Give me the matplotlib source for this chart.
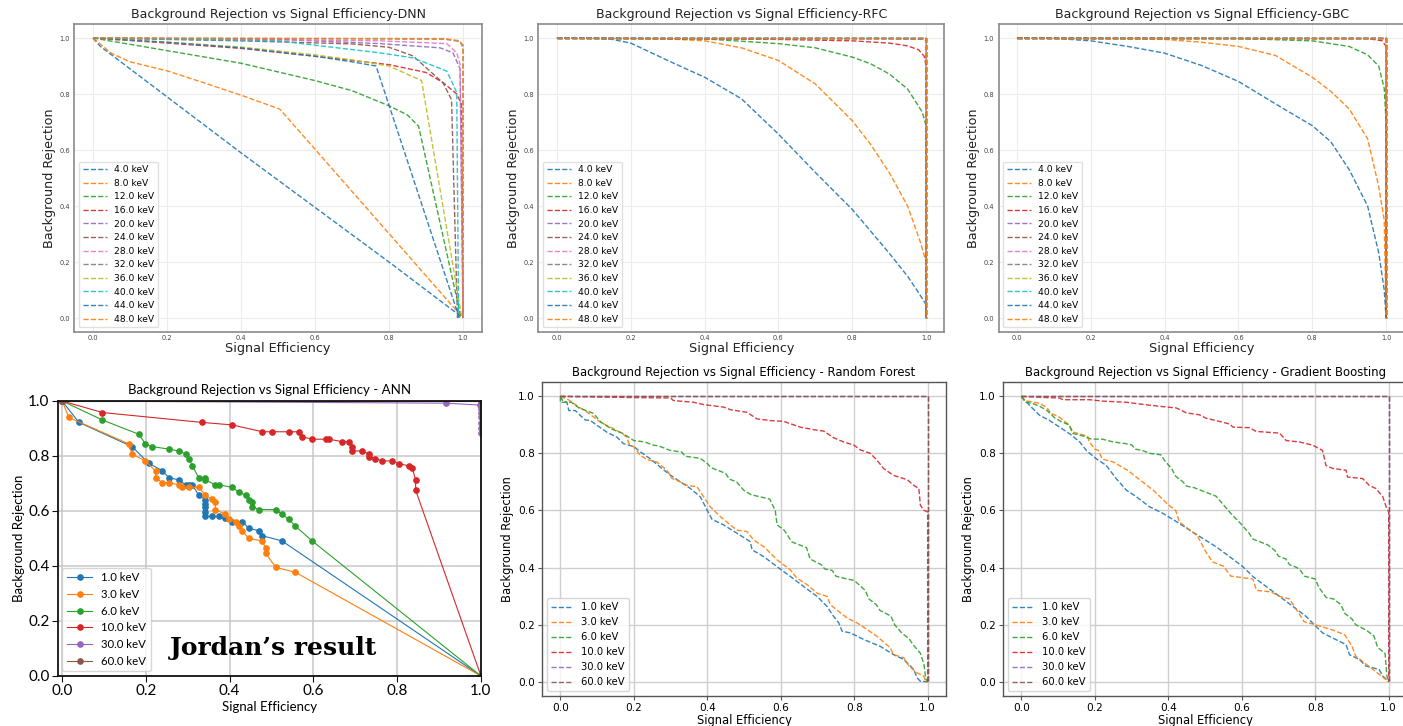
import matplotlib
matplotlib.use("Agg")
import matplotlib.pyplot as plt

# ---------------------------------------------------------------------------
# Legend energies
# ---------------------------------------------------------------------------
top_energies = [4.0, 8.0, 12.0, 16.0, 20.0, 24.0, 28.0, 32.0, 36.0, 40.0, 44.0, 48.0]
bottom_energies = [1.0, 3.0, 6.0, 10.0, 30.0, 60.0]

# Ideal classifier: full rejection up to full efficiency
ideal_eff = [0.0, 1.0, 1.0]
ideal_rej = [1.0, 1.0, 0.0]

# ---------------------------------------------------------------------------
# DNN curves
# ---------------------------------------------------------------------------
dnn_eff_4 = [0.0, 0.02, 0.2, 0.4, 0.6, 0.8, 1.0]
dnn_rej_4 = [1.0, 0.97, 0.79, 0.59, 0.395, 0.2, 0.0]
dnn_eff_8 = [0.0, 0.05, 0.1, 0.2, 0.3, 0.4, 0.505, 1.0]
dnn_rej_8 = [1.0, 0.945, 0.915, 0.883, 0.84, 0.796, 0.746, 0.0]
dnn_eff_12 = [0.0, 0.2, 0.4, 0.6, 0.7, 0.8, 0.85, 0.88, 0.995]
dnn_rej_12 = [1.0, 0.955, 0.91, 0.848, 0.812, 0.758, 0.725, 0.685, 0.0]
dnn_eff_16 = [0.0, 0.2, 0.4, 0.6, 0.8, 0.9, 0.947, 0.983, 0.996, 1.0]
dnn_rej_16 = [1.0, 0.982, 0.963, 0.935, 0.905, 0.877, 0.84, 0.8, 0.764, 0.0]
dnn_eff_20 = [0.0, 0.5, 0.776, 0.938, 0.973, 0.992, 1.0]
dnn_rej_20 = [1.0, 0.995, 0.98, 0.965, 0.947, 0.89, 0.0]
dnn_eff_24 = [0.0, 0.4, 0.7, 0.8, 0.865, 0.946, 0.969, 0.985]
dnn_rej_24 = [1.0, 0.99, 0.979, 0.967, 0.936, 0.84, 0.78, 0.0]
dnn_eff_28 = [0.0, 0.776, 0.956, 0.983, 0.992, 1.0]
dnn_rej_28 = [1.0, 0.99, 0.98, 0.947, 0.907, 0.0]
dnn_eff_32 = [0.0, 0.95, 0.99, 1.0, 1.0]
dnn_rej_32 = [1.0, 0.996, 0.988, 0.975, 0.0]
dnn_eff_36 = [0.0, 0.2, 0.4, 0.6, 0.7, 0.8, 0.888, 0.997]
dnn_rej_36 = [1.0, 0.985, 0.968, 0.94, 0.922, 0.9, 0.848, 0.0]
dnn_eff_40 = [0.0, 0.5, 0.776, 0.865, 0.956, 0.969, 0.983, 0.988]
dnn_rej_40 = [1.0, 0.99, 0.947, 0.929, 0.882, 0.846, 0.805, 0.0]
dnn_eff_44 = [0.0, 0.2, 0.4, 0.6, 0.7, 0.765, 0.99]
dnn_rej_44 = [1.0, 0.985, 0.965, 0.935, 0.915, 0.9, 0.0]
dnn_eff_48 = [0.0, 0.95, 0.992, 1.0, 1.0]
dnn_rej_48 = [1.0, 0.998, 0.99, 0.96, 0.0]

# ---------------------------------------------------------------------------
# RFC curves
# ---------------------------------------------------------------------------
rfc_eff_4 = [0.0, 0.1, 0.15, 0.2, 0.3, 0.4, 0.5, 0.6, 0.7, 0.8, 0.9, 0.95, 0.98, 1.0, 1.0]
rfc_rej_4 = [1.0, 0.998, 0.995, 0.982, 0.92, 0.86, 0.783, 0.657, 0.52, 0.388, 0.232, 0.149, 0.09, 0.048, 0.0]
rfc_eff_8 = [0.0, 0.3, 0.4, 0.5, 0.6, 0.7, 0.8, 0.85, 0.9, 0.95, 0.985, 1.0, 1.0]
rfc_rej_8 = [1.0, 0.997, 0.99, 0.965, 0.92, 0.836, 0.705, 0.62, 0.52, 0.4, 0.27, 0.2, 0.0]
rfc_eff_12 = [0.0, 0.4, 0.6, 0.7, 0.8, 0.85, 0.9, 0.95, 0.99, 1.0, 1.0]
rfc_rej_12 = [1.0, 0.997, 0.98, 0.965, 0.932, 0.908, 0.872, 0.818, 0.735, 0.687, 0.0]
rfc_eff_16 = [0.0, 0.6, 0.8, 0.9, 0.95, 0.98, 0.995, 1.0, 1.0]
rfc_rej_16 = [1.0, 0.995, 0.99, 0.982, 0.972, 0.958, 0.935, 0.9, 0.0]
rfc_eff_20 = [0.0, 0.9, 0.99, 1.0, 1.0]
rfc_rej_20 = [1.0, 0.998, 0.995, 0.99, 0.0]

# ---------------------------------------------------------------------------
# GBC curves
# ---------------------------------------------------------------------------
gbc_eff_4 = [0.0, 0.1, 0.2, 0.3, 0.4, 0.5, 0.6, 0.7, 0.8, 0.85, 0.9, 0.95, 0.98, 0.995, 1.0]
gbc_rej_4 = [1.0, 0.999, 0.99, 0.97, 0.946, 0.902, 0.845, 0.765, 0.687, 0.63, 0.53, 0.4, 0.233, 0.1, 0.0]
gbc_eff_8 = [0.0, 0.4, 0.5, 0.6, 0.7, 0.8, 0.85, 0.9, 0.95, 0.98, 0.995, 1.0]
gbc_rej_8 = [1.0, 0.995, 0.985, 0.97, 0.938, 0.86, 0.81, 0.747, 0.64, 0.47, 0.35, 0.0]
gbc_eff_12 = [0.0, 0.6, 0.8, 0.9, 0.95, 0.98, 0.995, 1.0, 1.0]
gbc_rej_12 = [1.0, 0.998, 0.99, 0.97, 0.94, 0.9, 0.82, 0.7, 0.0]
gbc_eff_16 = [0.0, 0.95, 0.99, 1.0, 1.0]
gbc_rej_16 = [1.0, 0.998, 0.99, 0.97, 0.0]

# ---------------------------------------------------------------------------
# ANN curves (points with markers)
# ---------------------------------------------------------------------------
ann_eff_1 = [0.0, 0.04, 0.167, 0.207, 0.239, 0.255, 0.279, 0.295, 0.303, 0.311, 0.326,
             0.342, 0.342, 0.342, 0.342, 0.342, 0.358, 0.374, 0.39, 0.406, 0.43, 0.446,
             0.47, 0.478, 0.525, 1.0]
ann_rej_1 = [1.0, 0.922, 0.834, 0.773, 0.747, 0.721, 0.713, 0.695, 0.695, 0.695, 0.658,
             0.64, 0.627, 0.615, 0.598, 0.58, 0.58, 0.58, 0.573, 0.561, 0.561, 0.537,
             0.528, 0.51, 0.491, 0.0]
ann_eff_3 = [0.0, 0.016, 0.159, 0.167, 0.199, 0.223, 0.223, 0.239, 0.255, 0.279, 0.287,
             0.303, 0.326, 0.342, 0.358, 0.366, 0.366, 0.39, 0.398, 0.414, 0.422, 0.43,
             0.446, 0.478, 0.486, 0.486, 0.51, 0.557, 1.0]
ann_rej_3 = [1.0, 0.94, 0.844, 0.807, 0.782, 0.745, 0.721, 0.703, 0.703, 0.695, 0.686,
             0.686, 0.686, 0.658, 0.642, 0.632, 0.605, 0.588, 0.57, 0.561, 0.545, 0.527,
             0.5, 0.491, 0.464, 0.446, 0.395, 0.377, 0.0]
ann_eff_6 = [0.0, 0.096, 0.183, 0.199, 0.215, 0.255, 0.279, 0.295, 0.303, 0.311, 0.326,
             0.342, 0.342, 0.366, 0.374, 0.406, 0.422, 0.438, 0.446, 0.454, 0.454, 0.47,
             0.51, 0.525, 0.541, 0.557, 0.597, 1.0]
ann_rej_6 = [1.0, 0.931, 0.879, 0.844, 0.834, 0.825, 0.818, 0.807, 0.79, 0.764, 0.721,
             0.721, 0.713, 0.695, 0.695, 0.686, 0.668, 0.658, 0.64, 0.632, 0.616, 0.605,
             0.605, 0.588, 0.57, 0.545, 0.491, 0.0]
ann_eff_10 = [0.0, 0.096, 0.334, 0.406, 0.478, 0.502, 0.541, 0.565, 0.573, 0.597, 0.629,
              0.637, 0.669, 0.685, 0.693, 0.693, 0.717, 0.732, 0.732, 0.748, 0.764, 0.788,
              0.804, 0.828, 0.836, 0.844, 0.844, 1.0]
ann_rej_10 = [1.0, 0.958, 0.922, 0.913, 0.888, 0.888, 0.888, 0.888, 0.87, 0.861, 0.861,
              0.861, 0.852, 0.852, 0.834, 0.818, 0.818, 0.807, 0.798, 0.79, 0.782, 0.782,
              0.772, 0.764, 0.756, 0.713, 0.676, 0.0]
ann_eff_30 = [0.0, 0.916, 0.998, 1.0, 1.0, 1.0, 1.0, 1.0, 1.0]
ann_rej_30 = [1.0, 0.992, 0.985, 0.972, 0.955, 0.94, 0.92, 0.9, 0.885]
ann_eff_60 = [0.0, 1.0]
ann_rej_60 = [1.0, 1.0]

# ---------------------------------------------------------------------------
# Random Forest curves
# ---------------------------------------------------------------------------
rf_eff_1 = [0.0, 0.005, 0.018, 0.023, 0.041, 0.054, 0.068, 0.082, 0.1, 0.127, 0.154, 0.172,
            0.2, 0.218, 0.245, 0.272, 0.3, 0.327, 0.354, 0.381, 0.395, 0.404, 0.413, 0.445,
            0.481, 0.517, 0.522, 0.554, 0.59, 0.626, 0.662, 0.699, 0.726, 0.744, 0.758,
            0.767, 0.79, 0.826, 0.871, 0.907, 0.935, 0.962, 0.971, 0.98, 1.0]
rf_rej_1 = [1.0, 0.987, 0.979, 0.95, 0.95, 0.933, 0.917, 0.915, 0.898, 0.874, 0.857, 0.834,
            0.824, 0.805, 0.781, 0.752, 0.723, 0.7, 0.677, 0.648, 0.613, 0.59, 0.569, 0.549,
            0.52, 0.491, 0.462, 0.438, 0.403, 0.369, 0.334, 0.299, 0.264, 0.229, 0.206,
            0.177, 0.171, 0.148, 0.124, 0.095, 0.078, 0.043, 0.014, 0.002, 0.0]
rf_eff_3 = [0.0, 0.023, 0.045, 0.073, 0.091, 0.109, 0.136, 0.163, 0.181, 0.186, 0.2, 0.218,
            0.236, 0.263, 0.29, 0.304, 0.327, 0.345, 0.372, 0.39, 0.408, 0.436, 0.463, 0.481,
            0.508, 0.526, 0.554, 0.59, 0.626, 0.644, 0.672, 0.699, 0.726, 0.735, 0.763,
            0.781, 0.808, 0.835, 0.862, 0.898, 0.907, 0.935, 0.949, 0.971, 0.989, 0.995, 1.0]
rf_rej_3 = [1.0, 0.987, 0.967, 0.944, 0.927, 0.909, 0.892, 0.874, 0.857, 0.836, 0.822, 0.793,
            0.778, 0.77, 0.741, 0.712, 0.7, 0.688, 0.683, 0.648, 0.613, 0.578, 0.549, 0.531,
            0.526, 0.497, 0.473, 0.427, 0.392, 0.363, 0.34, 0.31, 0.299, 0.27, 0.241,
            0.223, 0.206, 0.183, 0.159, 0.119, 0.095, 0.084, 0.055, 0.031, 0.02, 0.0, 0.0]
rf_eff_6 = [0.0, 0.0, 0.03, 0.05, 0.09, 0.1, 0.11, 0.14, 0.17, 0.2, 0.23, 0.25, 0.27, 0.3,
            0.33, 0.34, 0.38, 0.4, 0.41, 0.45, 0.46, 0.48, 0.5, 0.52, 0.57, 0.585, 0.59,
            0.61, 0.63, 0.65, 0.67, 0.68, 0.71, 0.72, 0.74, 0.75, 0.78, 0.8, 0.83, 0.84,
            0.86, 0.87, 0.9, 0.91, 0.93, 0.95, 0.96, 0.98, 0.99, 0.995, 1.0]
rf_rej_6 = [1.0, 0.979, 0.979, 0.96, 0.94, 0.925, 0.91, 0.885, 0.87, 0.845, 0.84, 0.83,
            0.825, 0.81, 0.805, 0.79, 0.783, 0.765, 0.75, 0.73, 0.71, 0.7, 0.67, 0.655,
            0.64, 0.6, 0.55, 0.53, 0.49, 0.48, 0.47, 0.43, 0.41, 0.395, 0.39, 0.37, 0.36,
            0.355, 0.32, 0.29, 0.27, 0.25, 0.23, 0.2, 0.17, 0.15, 0.13, 0.1, 0.06, 0.01, 0.0]
rf_eff_10 = [0.0, 0.172, 0.3, 0.308, 0.363, 0.39, 0.445, 0.463, 0.508, 0.535, 0.572, 0.608,
             0.653, 0.69, 0.717, 0.744, 0.771, 0.799, 0.817, 0.844, 0.862, 0.88, 0.907,
             0.944, 0.962, 0.976, 0.98, 0.989, 1.0, 1.0]
rf_rej_10 = [1.0, 0.996, 0.994, 0.985, 0.979, 0.971, 0.962, 0.953, 0.944, 0.921, 0.915, 0.912,
             0.892, 0.883, 0.878, 0.855, 0.84, 0.829, 0.812, 0.8, 0.776, 0.747, 0.723,
             0.708, 0.688, 0.677, 0.619, 0.601, 0.595, 0.0]

# ---------------------------------------------------------------------------
# Gradient Boosting curves
# ---------------------------------------------------------------------------
gb_eff_1 = [0.0, 0.01, 0.027, 0.05, 0.077, 0.104, 0.131, 0.159, 0.177, 0.204, 0.231, 0.258,
            0.286, 0.313, 0.349, 0.385, 0.422, 0.458, 0.494, 0.53, 0.567, 0.603, 0.63, 0.666,
            0.703, 0.739, 0.775, 0.802, 0.82, 0.848, 0.884, 0.893, 0.92, 0.938, 0.974,
            0.984, 1.0]
gb_rej_1 = [1.0, 0.985, 0.962, 0.933, 0.915, 0.892, 0.869, 0.84, 0.81, 0.781, 0.758, 0.712,
            0.671, 0.648, 0.613, 0.59, 0.561, 0.531, 0.502, 0.473, 0.438, 0.403, 0.369, 0.334,
            0.299, 0.264, 0.229, 0.194, 0.171, 0.153, 0.13, 0.095, 0.078, 0.055, 0.043,
            0.02, 0.0]
gb_eff_3 = [0.0, 0.01, 0.05, 0.07, 0.08, 0.1, 0.12, 0.13, 0.14, 0.18, 0.185, 0.2, 0.21, 0.22,
            0.25, 0.29, 0.33, 0.36, 0.4, 0.42, 0.43, 0.46, 0.48, 0.5, 0.52, 0.55, 0.57, 0.6,
            0.63, 0.64, 0.68, 0.7, 0.73, 0.75, 0.77, 0.8, 0.85, 0.88, 0.9, 0.91, 0.95, 0.98,
            1.0]
gb_rej_3 = [1.0, 0.985, 0.975, 0.96, 0.94, 0.93, 0.91, 0.9, 0.875, 0.86, 0.84, 0.815, 0.81,
            0.78, 0.77, 0.74, 0.7, 0.67, 0.62, 0.6, 0.56, 0.53, 0.51, 0.46, 0.42, 0.405,
            0.37, 0.365, 0.36, 0.32, 0.315, 0.3, 0.29, 0.25, 0.21, 0.2, 0.18, 0.165, 0.125,
            0.09, 0.05, 0.02, 0.0]
gb_eff_6 = [0.0, 0.01, 0.03, 0.05, 0.07, 0.09, 0.11, 0.13, 0.14, 0.17, 0.19, 0.22, 0.25,
            0.28, 0.3, 0.31, 0.33, 0.35, 0.38, 0.39, 0.4, 0.41, 0.42, 0.44, 0.45, 0.47, 0.5,
            0.53, 0.55, 0.57, 0.6, 0.62, 0.63, 0.65, 0.67, 0.69, 0.7, 0.72, 0.73, 0.75, 0.76,
            0.77, 0.8, 0.81, 0.83, 0.85, 0.87, 0.88, 0.9, 0.91, 0.94, 0.96, 0.97, 0.99,
            0.995, 1.0]
gb_rej_6 = [1.0, 0.98, 0.975, 0.965, 0.95, 0.925, 0.91, 0.9, 0.87, 0.86, 0.85, 0.85, 0.84,
            0.835, 0.83, 0.815, 0.81, 0.8, 0.795, 0.775, 0.76, 0.745, 0.72, 0.7, 0.685, 0.68,
            0.665, 0.65, 0.62, 0.59, 0.55, 0.52, 0.5, 0.49, 0.48, 0.46, 0.44, 0.43, 0.41,
            0.4, 0.39, 0.37, 0.36, 0.33, 0.295, 0.29, 0.27, 0.24, 0.22, 0.2, 0.18, 0.16,
            0.12, 0.1, 0.02, 0.0]
gb_eff_10 = [0.0, 0.06, 0.104, 0.113, 0.186, 0.222, 0.286, 0.322, 0.376, 0.422, 0.449, 0.485,
             0.503, 0.53, 0.567, 0.576, 0.621, 0.639, 0.703, 0.721, 0.757, 0.793, 0.82, 0.829,
             0.848, 0.884, 0.888, 0.929, 0.947, 0.965, 0.984, 0.993, 1.0, 1.0]
gb_rej_10 = [1.0, 0.996, 0.994, 0.988, 0.988, 0.983, 0.979, 0.973, 0.965, 0.959, 0.942, 0.935,
             0.923, 0.915, 0.903, 0.892, 0.89, 0.877, 0.871, 0.845, 0.84, 0.829, 0.81, 0.758,
             0.747, 0.741, 0.717, 0.712, 0.688, 0.677, 0.648, 0.613, 0.595, 0.0]

PALETTE = plt.rcParams["axes.prop_cycle"].by_key()["color"]

dnn_curves = [(dnn_eff_4, dnn_rej_4), (dnn_eff_8, dnn_rej_8), (dnn_eff_12, dnn_rej_12),
              (dnn_eff_16, dnn_rej_16), (dnn_eff_20, dnn_rej_20), (dnn_eff_24, dnn_rej_24),
              (dnn_eff_28, dnn_rej_28), (dnn_eff_32, dnn_rej_32), (dnn_eff_36, dnn_rej_36),
              (dnn_eff_40, dnn_rej_40), (dnn_eff_44, dnn_rej_44), (dnn_eff_48, dnn_rej_48)]
rfc_curves = [(rfc_eff_4, rfc_rej_4), (rfc_eff_8, rfc_rej_8), (rfc_eff_12, rfc_rej_12),
              (rfc_eff_16, rfc_rej_16), (rfc_eff_20, rfc_rej_20)] + [(ideal_eff, ideal_rej)] * 7
gbc_curves = [(gbc_eff_4, gbc_rej_4), (gbc_eff_8, gbc_rej_8), (gbc_eff_12, gbc_rej_12),
              (gbc_eff_16, gbc_rej_16)] + [(ideal_eff, ideal_rej)] * 8
ann_curves = [(ann_eff_1, ann_rej_1), (ann_eff_3, ann_rej_3), (ann_eff_6, ann_rej_6),
              (ann_eff_10, ann_rej_10), (ann_eff_30, ann_rej_30), (ann_eff_60, ann_rej_60)]
rf_curves = [(rf_eff_1, rf_rej_1), (rf_eff_3, rf_rej_3), (rf_eff_6, rf_rej_6),
             (rf_eff_10, rf_rej_10), (ideal_eff, ideal_rej), (ideal_eff, ideal_rej)]
gb_curves = [(gb_eff_1, gb_rej_1), (gb_eff_3, gb_rej_3), (gb_eff_6, gb_rej_6),
             (gb_eff_10, gb_rej_10), (ideal_eff, ideal_rej), (ideal_eff, ideal_rej)]

ticks = [0.0, 0.2, 0.4, 0.6, 0.8, 1.0]

fig = plt.figure(figsize=(14.03, 7.26), dpi=100)


def top_panel(rect, curves, title):
    ax = fig.add_axes(rect)
    for i, ((x, y), e) in enumerate(zip(curves, top_energies)):
        ax.plot(x, y, ls="--", lw=1.0, color=PALETTE[i % 10], alpha=0.9,
                label=f"{e:.1f} keV")
    ax.set_xlim(-0.05, 1.05)
    ax.set_ylim(-0.05, 1.05)
    ax.set_xticks(ticks)
    ax.set_yticks(ticks)
    ax.grid(True, color="#ececec", lw=0.8)
    ax.set_axisbelow(True)
    for s in ax.spines.values():
        s.set_color("#8a8a8a")
        s.set_linewidth(1.2)
    ax.tick_params(length=0, labelsize=4.8, labelcolor="#444444")
    ax.tick_params(axis="x", pad=2.5)
    ax.tick_params(axis="y", pad=3.2)
    ax.set_title(title, fontsize=9, pad=4, color="#222222")
    ax.set_xlabel("Signal Efficiency", fontsize=9.2, labelpad=0.5, color="#222222")
    ax.set_ylabel("Background Rejection", fontsize=9.2, labelpad=2.5, color="#222222")
    ax.legend(loc="lower left", fontsize=6.6, handlelength=2.6, framealpha=0.9,
              edgecolor="#dddddd")
    return ax


top_panel([0.0531, 0.5427, 0.2901, 0.4242], dnn_curves,
          "Background Rejection vs Signal Efficiency-DNN")
top_panel([0.3838, 0.5427, 0.2894, 0.4242], rfc_curves,
          "Background Rejection vs Signal Efficiency-RFC")
top_panel([0.7117, 0.5427, 0.2894, 0.4242], gbc_curves,
          "Background Rejection vs Signal Efficiency-GBC")

# ---------------------------------------------------------------------------
# ANN panel
# ---------------------------------------------------------------------------
ann_font = "Lato"
ax = fig.add_axes([0.0413, 0.0689, 0.3015, 0.3788])
for i, ((x, y), e) in enumerate(zip(ann_curves, bottom_energies)):
    ax.plot(x, y, ls="-", lw=0.8, marker="o", ms=3.8, color=PALETTE[i],
            label=f"{e:.1f} keV")
ax.set_xlim(-0.01, 1.0)
ax.set_ylim(0.0, 1.0)
ax.set_xticks(ticks)
ax.set_yticks(ticks)
ax.grid(True, color="#c8c8c8", lw=1.1)
for s in ax.spines.values():
    s.set_color("#111111")
    s.set_linewidth(1.3)
for lab in ax.get_xticklabels() + ax.get_yticklabels():
    lab.set_fontfamily(ann_font)
ax.tick_params(labelsize=11, length=4, color="#111111", pad=2)
ax.set_title("Background Rejection vs Signal Efficiency - ANN", fontsize=9.5,
             family=ann_font, pad=5)
ax.set_xlabel("Signal Efficiency", fontsize=9.5, family=ann_font, labelpad=2)
ax.set_ylabel("Background Rejection", fontsize=9.5, family=ann_font, labelpad=2)
ax.legend(loc="lower left", prop={"family": ann_font, "size": 8.2}, handlelength=2.2,
          borderaxespad=0.4)
ax.text(0.504, 0.1, "Jordan\u2019s result", ha="center", va="center", fontsize=18,
        fontweight="bold", family="DejaVu Serif", transform=ax.transData)


def bottom_panel(rect, curves, title):
    ax = fig.add_axes(rect)
    for i, ((x, y), e) in enumerate(zip(curves, bottom_energies)):
        ax.plot(x, y, ls="--", lw=1.0, color=PALETTE[i], alpha=0.9,
                label=f"{e:.1f} keV")
    ax.set_xlim(-0.05, 1.05)
    ax.set_ylim(-0.05, 1.05)
    ax.set_xticks(ticks)
    ax.set_yticks(ticks)
    ax.grid(True, color="#cfcfcf", lw=1.0)
    for s in ax.spines.values():
        s.set_color("#555555")
        s.set_linewidth(1.0)
    ax.tick_params(labelsize=7.6, length=3, color="#555555", pad=2)
    ax.set_title(title, fontsize=8.4, pad=4)
    ax.set_xlabel("Signal Efficiency", fontsize=8.3, labelpad=1)
    ax.set_ylabel("Background Rejection", fontsize=8.3, labelpad=3)
    ax.legend(loc="lower left", fontsize=7.2, handlelength=2.2)
    return ax


bottom_panel([0.3863, 0.0413, 0.288, 0.4325], rf_curves,
             "Background Rejection vs Signal Efficiency - Random Forest")
bottom_panel([0.7149, 0.0413, 0.288, 0.4325], gb_curves,
             "Background Rejection vs Signal Efficiency - Gradient Boosting")

fig.savefig("out.png", dpi=100)
